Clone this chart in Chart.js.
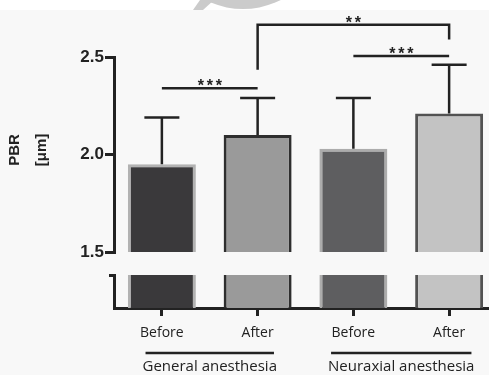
<!DOCTYPE html>
<html>
<head>
<meta charset="utf-8">
<script src="https://cdn.jsdelivr.net/npm/chart.js@4.4.0/dist/chart.umd.min.js"></script>
<style>
html, body { margin: 0; padding: 0; overflow: hidden; background: #f8f8f8; }
</style>
</head>
<body>
<canvas id="pbr" width="500" height="375"></canvas>
<script>
// data
var labels = ['Before', 'After', 'Before', 'After'];
var groups = ['General anesthesia', 'Neuraxial anesthesia'];
var means = [1.95, 2.10, 2.03, 2.21];
var sds = [0.24, 0.19, 0.26, 0.25];
var yTicks = [1.5, 2.0, 2.5];

// significance brackets (bar index from/to, level of the line, leg ends, label)
var sigFrom = [0, 1, 2];
var sigTo = [1, 3, 3];
var sigLevel = [2.34, 2.665, 2.505];
var sigLegLeft = [null, 2.435, null];
var sigLegRight = [null, 2.59, null];
var sigLabel = ['***', '**', '***'];

var LOW_MAX = 1; // lower piece of the broken axis

var fills = ['#3a393b', '#9a9a9a', '#5e5e60', '#c3c3c3'];
var borders = ['#b2b2b2', '#2e2e2e', '#acacac', '#525252'];
var ink = '#222';

function fixWidth(s) { s.width = 114; }

var decor = {
    id: 'decor',
    beforeDraw: function(chart) {
        var c = chart.ctx;
        c.save();
        c.fillStyle = '#f8f8f8';
        c.fillRect(0, 0, chart.width, chart.height);
        c.fillStyle = '#ffffff';
        c.fillRect(0, 0, chart.width, 10);
        // faint watermark blob at the top
        c.fillStyle = '#cbcbcb';
        c.beginPath();
        c.arc(243, -75, 84, 0, Math.PI * 2);
        c.fill();
        c.beginPath();
        c.moveTo(193, 10);
        c.lineTo(203, 10);
        c.lineTo(214, 0);
        c.lineTo(200, 0);
        c.closePath();
        c.fill();
        c.restore();
    },
    afterDatasetsDraw: function(chart) {
        var c = chart.ctx;
        var y = chart.scales.y;
        var bars = chart.getDatasetMeta(0).data;
        c.save();
        c.strokeStyle = ink;
        c.fillStyle = ink;

        // error bars (upper SD only)
        c.lineWidth = 2.5;
        bars.forEach(function(b, i) {
            var top = y.getPixelForValue(means[i] + sds[i]);
            c.beginPath();
            c.moveTo(b.x, b.y);
            c.lineTo(b.x, top);
            c.moveTo(b.x - 17.5, top);
            c.lineTo(b.x + 17.5, top);
            c.stroke();
        });

        // significance lines
        c.font = 'bold 16px "Liberation Sans"';
        c.textAlign = 'center';
        c.textBaseline = 'alphabetic';
        for (var k = 0; k < sigLabel.length; k++) {
            var x1 = bars[sigFrom[k]].x, x2 = bars[sigTo[k]].x;
            var yl = y.getPixelForValue(sigLevel[k]);
            c.beginPath();
            if (sigLegLeft[k] != null) {
                c.moveTo(x1, y.getPixelForValue(sigLegLeft[k]));
                c.lineTo(x1, yl);
            } else {
                c.moveTo(x1, yl);
            }
            c.lineTo(x2, yl);
            if (sigLegRight[k] != null) {
                c.lineTo(x2, y.getPixelForValue(sigLegRight[k]));
            }
            c.stroke();
            var n = sigLabel[k].length;
            var mid = (x1 + x2) / 2;
            for (var s = 0; s < n; s++) {
                c.fillText('*', mid + (s - (n - 1) / 2) * 9, yl + 3);
            }
        }

        // y axis title
        c.textBaseline = 'middle';
        c.font = 'bold 15px "Liberation Sans Narrow", "Liberation Sans"';
        c.save();
        c.translate(15, 150);
        c.rotate(-Math.PI / 2);
        c.fillText('PBR', 0, 0);
        c.restore();
        c.save();
        c.translate(42, 150);
        c.rotate(-Math.PI / 2);
        c.fillText('[\u03bcm]', 0, 0);
        c.restore();

        // group labels with underline
        c.font = '15px "Open Sans"';
        c.lineWidth = 2.5;
        groups.forEach(function(g, i) {
            var mid = (bars[i * 2].x + bars[i * 2 + 1].x) / 2;
            var w = c.measureText(g).width;
            c.beginPath();
            c.moveTo(mid - w / 2 + 3, 353);
            c.lineTo(mid + w / 2 - 3, 353);
            c.stroke();
            c.fillText(g, mid, 367);
        });
        c.restore();
    }
};

var ctx = document.getElementById('pbr').getContext('2d');
var chart = new Chart(ctx, {
    type: 'bar',
    data: {
        labels: labels,
        datasets: [{
            data: means,
            yAxisID: 'y',
            backgroundColor: fills,
            borderColor: borders,
            borderWidth: 3,
            borderSkipped: 'bottom',
            grouped: false,
            barPercentage: 0.71,
            categoryPercentage: 1
        }, {
            data: means.map(function(v) { return Math.min(v, LOW_MAX); }),
            yAxisID: 'yLow',
            backgroundColor: fills,
            borderColor: borders,
            borderWidth: { left: 3, right: 3, top: 0, bottom: 0 },
            grouped: false,
            barPercentage: 0.71,
            categoryPercentage: 1
        }]
    },
    options: {
        responsive: false,
        animation: false,
        layout: { padding: { top: 57, right: 3, left: 0, bottom: 0 } },
        plugins: { legend: { display: false }, tooltip: { enabled: false } },
        scales: {
            x: {
                offset: true,
                z: 1,
                grid: { offset: false, drawOnChartArea: false, tickLength: 8, color: ink, lineWidth: 3 },
                border: { display: true, color: ink, width: 3 },
                ticks: { font: { family: 'Open Sans', size: 14 }, color: ink, padding: 9 },
                afterFit: function(s) { s.height = 67; }
            },
            y: {
                type: 'linear',
                position: 'left',
                stack: 'pbr',
                stackWeight: 195,
                weight: 3,
                min: 1.5,
                max: 2.5,
                afterBuildTicks: function(s) { s.ticks = yTicks.map(function(v) { return { value: v }; }); },
                ticks: {
                    font: { family: 'Liberation Sans', weight: 'bold', size: 17 },
                    color: ink,
                    padding: 1,
                    callback: function(v) { return Number(v).toFixed(1); }
                },
                grid: { drawOnChartArea: false, tickLength: 9, color: ink, lineWidth: 3 },
                border: { display: true, color: ink, width: 3 },
                afterFit: fixWidth
            },
            yGap: {
                type: 'linear',
                position: 'left',
                stack: 'pbr',
                stackWeight: 23,
                weight: 2,
                ticks: { display: false },
                grid: { display: false },
                border: { display: false },
                afterFit: fixWidth
            },
            yLow: {
                type: 'linear',
                position: 'left',
                stack: 'pbr',
                stackWeight: 33,
                weight: 1,
                min: 0,
                max: LOW_MAX,
                afterBuildTicks: function(s) { s.ticks = [{ value: LOW_MAX }]; },
                ticks: { padding: 0, callback: function() { return ''; } },
                grid: { drawOnChartArea: false, tickLength: 5, color: ink, lineWidth: 3 },
                border: { display: true, color: ink, width: 3 },
                afterFit: fixWidth
            }
        }
    },
    plugins: [decor]
});
</script>
</body>
</html>
